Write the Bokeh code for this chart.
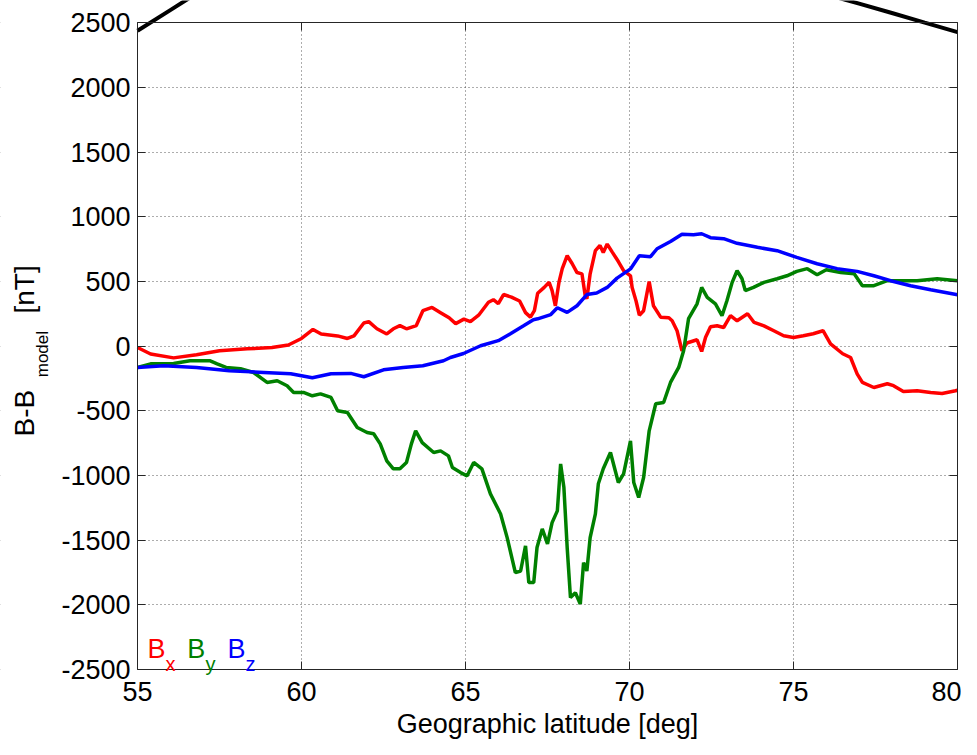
import math
from bokeh.plotting import figure
from bokeh.models import Range1d, LinearAxis, FixedTicker, Label, BoxAnnotation
from bokeh.embed import file_html
from bokeh.resources import INLINE

# ---------------- data ----------------
x_ticks = [55, 60, 65, 70, 75, 80]
y_ticks = [-2500, -2000, -1500, -1000, -500, 0, 500, 1000, 1500, 2000, 2500]

bx_lat = [55.0, 55.4, 56.1, 56.8, 57.5, 58.35, 59.1, 59.6, 60.0, 60.35, 60.6, 61.1, 61.4, 61.6, 61.9, 62.05,
          62.3, 62.6, 62.8, 63.0, 63.2, 63.5, 63.7, 63.98, 64.24, 64.5, 64.7, 64.95, 65.15, 65.4, 65.7, 65.85,
          66.0, 66.16, 66.4, 66.65, 66.83, 66.98, 67.1, 67.2, 67.4, 67.55, 67.64, 67.74, 67.85, 67.95, 68.1,
          68.25, 68.4, 68.55, 68.65, 68.7, 68.8, 68.96, 69.1, 69.2, 69.32, 69.47, 69.66, 69.82, 70.03, 70.08,
          70.2, 70.3, 70.43, 70.6, 70.73, 70.95, 71.2, 71.3, 71.45, 71.6, 71.75, 72.06, 72.2, 72.32, 72.47,
          72.67, 72.87, 73.08, 73.28, 73.6, 73.8, 74.1, 74.4, 74.7, 75.0, 75.3, 75.6, 75.9, 76.13, 76.5,
          76.74, 76.94, 77.1, 77.45, 77.86, 78.05, 78.35, 78.77, 79.18, 79.53, 79.94, 80.0]
bx_val = [-10, -60, -90, -65, -35, -20, -10, 10, 60, 130, 95, 80, 60, 80, 180, 190,
          135, 95, 135, 160, 135, 160, 275, 300, 260, 220, 175, 210, 190, 240, 340, 360,
          330, 400, 380, 350, 260, 225, 275, 410, 455, 495, 430, 313, 495, 600, 700,
          640, 570, 560, 390, 368, 560, 740, 780, 725, 790, 730, 655, 585, 545, 455,
          350, 240, 275, 500, 313, 225, 220, 197, 120, -35, 25, 50, -40, 70, 150,
          158, 145, 236, 197, 251, 184, 158, 120, 81, 68, 81, 97, 120, 19, -58,
          -87, -213, -280, -319, -290, -305, -350, -344, -357, -365, -344, -340]

by_lat = [55.0, 55.4, 56.1, 56.6, 57.2, 57.43, 57.7, 58.14, 58.54, 58.95, 59.26, 59.56, 59.76, 60.06, 60.33,
          60.58, 60.9, 61.1, 61.4, 61.7, 62.0, 62.2, 62.4, 62.6, 62.8, 63.0, 63.2, 63.35, 63.48, 63.68, 64.03,
          64.24, 64.48, 64.6, 64.85, 65.05, 65.25, 65.5, 65.76, 66.07, 66.27, 66.52, 66.68, 66.83, 66.93,
          67.08, 67.18, 67.34, 67.5, 67.64, 67.8, 67.9, 68.0, 68.1, 68.2, 68.35, 68.5, 68.6, 68.7, 68.8,
          68.96, 69.05, 69.2, 69.42, 69.66, 69.82, 70.03, 70.13, 70.28, 70.43, 70.6, 70.8, 71.04, 71.25,
          71.5, 71.65, 71.8, 72.06, 72.2, 72.37, 72.62, 72.82, 72.97, 73.13, 73.28, 73.43, 73.53, 73.78,
          74.1, 74.5, 74.8, 75.1, 75.42, 75.72, 76.0, 76.44, 76.85, 77.1, 77.45, 77.86, 78.26, 78.77,
          79.38, 80.0]
by_val = [-164, -136, -133, -112, -112, -136, -164, -174, -203, -280, -267, -306, -357, -357, -383,
          -368, -396, -499, -512, -628, -667, -677, -755, -886, -948, -948, -899, -755, -654, -745, -822,
          -809, -848, -938, -977, -1002, -899, -948, -1142, -1297, -1480, -1751, -1738, -1544, -1828,
          -1828, -1557, -1413, -1529, -1364, -1273, -910, -1093, -1557, -1944, -1906, -1993, -1673, -1738, -1480,
          -1297, -1064, -948, -822, -1054, -987, -731, -1054, -1170, -1015, -654, -445, -435, -280,
          -164, -35, 213, 328, 455, 378, 328, 236, 352, 494, 584, 522, 430, 455,
          494, 522, 545, 579, 600, 553, 592, 571, 561, 468, 468, 507, 507, 507,
          522, 507]

bz_lat = [55.0, 55.8, 56.8, 57.8, 58.85, 59.67, 60.33, 60.9, 61.5, 61.9, 62.5, 63.1, 63.7, 64.33, 64.54,
          64.94, 65.46, 66.0, 66.37, 66.77, 67.07, 67.2, 67.6, 67.8, 68.1, 68.4, 68.7, 69.0, 69.32, 69.62,
          70.03, 70.3, 70.64, 70.84, 71.25, 71.6, 71.95, 72.2, 72.47, 72.87, 73.28, 73.9, 74.5, 75.1,
          75.72, 76.33, 76.94, 77.45, 77.96, 78.57, 79.18, 80.0]
bz_val = [-164, -151, -164, -190, -203, -213, -244, -213, -210, -236, -182, -164, -151, -112, -87,
          -56, 4, 43, 97, 158, 205, 212, 245, 298, 262, 313, 400, 412, 455, 527,
          598, 700, 693, 754, 810, 866, 863, 870, 840, 832, 796, 765, 739, 687,
          638, 600, 579, 545, 507, 468, 437, 398]

b_lat = [55.0, 56.0, 57.0, 67.5, 76.0, 77.0, 78.0, 79.0, 80.0]
b_val = [2440, 2600, 2760, 3600, 2720, 2650, 2577, 2503, 2430]

FONT = "Liberation Sans"
AXC = "#262626"
X0, X1 = x_ticks[0], x_ticks[-1]
Y0, Y1 = y_ticks[0], y_ticks[-1]

# frame covers the whole canvas; the axes box is drawn with fixed-location axes
p = figure(width=961, height=739, output_backend="svg", toolbar_location=None,
           x_range=Range1d(50.823, 80.122), y_range=Range1d(-3041.4, 2674.0),
           min_border_left=0, min_border_right=0, min_border_top=0, min_border_bottom=0)
p.outline_line_color = None
p.background_fill_color = "white"
p.border_fill_color = "white"

# grids
for g, t in ((p.xgrid, x_ticks), (p.ygrid, y_ticks)):
    g.ticker = FixedTicker(ticks=t)
    g.grid_line_color = "#333333"
    g.grid_line_alpha = 0.8
    g.grid_line_dash = "1 3"
    g.grid_line_width = 1

# masks outside the axes box (hide grid there)
for kw in (dict(right=X0), dict(left=X1), dict(top=Y0), dict(bottom=Y1)):
    p.add_layout(BoxAnnotation(fill_color="white", fill_alpha=1.0, line_color=None,
                               level="underlay", **kw))

def style_axis(a, standoff=7):
    a.major_label_text_font = FONT
    a.major_label_text_font_size = "27px"
    a.major_label_text_color = "black"
    a.major_label_standoff = standoff
    a.major_tick_out = 0
    a.major_tick_in = 8
    a.minor_tick_out = 0
    a.minor_tick_in = 0
    a.axis_line_color = AXC
    a.major_tick_line_color = AXC

xa = p.xaxis[0]
xa.ticker = FixedTicker(ticks=x_ticks)
style_axis(xa, standoff=13)
xa.fixed_location = Y0
xa.bounds = (X0, X1)
xa.axis_label = "Geographic latitude [deg]"
xa.axis_label_text_font = FONT
xa.axis_label_text_font_size = "27px"
xa.axis_label_text_font_style = "normal"
xa.axis_label_text_color = "black"
xa.axis_label_standoff = 4

ya = p.yaxis[0]
ya.ticker = FixedTicker(ticks=y_ticks)
style_axis(ya, standoff=7)
ya.fixed_location = X0
ya.bounds = (Y0, Y1)
ya.major_label_overrides = {v: str(v) for v in y_ticks}

ra = LinearAxis(ticker=FixedTicker(ticks=y_ticks))
style_axis(ra, standoff=0)
ra.fixed_location = X1
ra.bounds = (Y0, Y1)
ra.major_label_overrides = {v: "" for v in y_ticks}
p.add_layout(ra, "right")

ta = LinearAxis(ticker=FixedTicker(ticks=x_ticks))
style_axis(ta, standoff=0)
ta.fixed_location = Y1
ta.bounds = (X0, X1)
ta.major_label_overrides = {v: "" for v in x_ticks}
p.add_layout(ta, "above")

# data lines
p.line(bx_lat, bx_val, line_color="#ff0000", line_width=3.5)
p.line(by_lat, by_val, line_color="#008000", line_width=3.5)
p.line(bz_lat, bz_val, line_color="#0000ff", line_width=3.5)
p.line(b_lat, b_val, line_color="black", line_width=4)

# labels
def lab(x, y, t, c, s, angle=0.0):
    p.add_layout(Label(x=x, y=y, text=t, text_color=c, text_font=FONT,
                       text_font_size=s, text_align="left", text_baseline="alphabetic",
                       angle=angle, angle_units="rad"))

for (bxp, sxp, sub, col) in ((55.305, 55.854, "x", "#ff0000"),
                             (56.52, 57.07, "y", "#008000"),
                             (57.74, 58.29, "z", "#0000ff")):
    lab(bxp, -2338, "B", col, "27px")
    lab(sxp, -2454, sub, col, "20px")

# y axis label with subscript
lab(51.555, -698, "B-B", "black", "28px", math.pi / 2)
lab(52.104, -240, "model", "black", "17px", math.pi / 2)
lab(51.555, 253, "[nT]", "black", "28px", math.pi / 2)

open("out.html", "w").write(file_html(p, INLINE))
